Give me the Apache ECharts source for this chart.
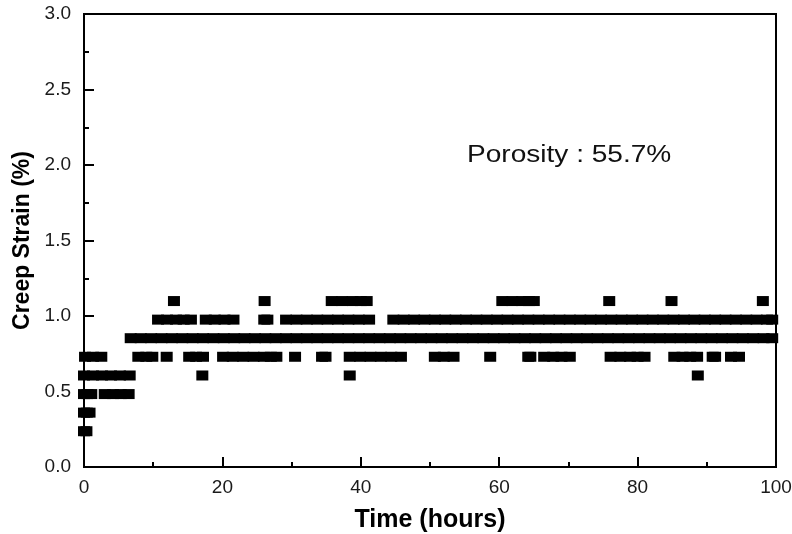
<!DOCTYPE html>
<html>
<head>
<meta charset="utf-8">
<script src="https://cdn.jsdelivr.net/npm/echarts@6/dist/echarts.min.js"></script>
<style>
  html, body { margin: 0; padding: 0; background: #fff; }
  #chart { width: 792px; height: 534px; }
</style>
</head>
<body>
<div id="chart"></div>
<script>
// Creep strain readings: each strain level (%) with the times (hours) it was recorded at.
const strainLevels = [0.237, 0.36, 0.483, 0.606, 0.73, 0.853, 0.976, 1.099];

const timesAt0237 = [0, 0.35];
const timesAt0360 = [0, 0.4, 0.8];
const timesAt0483 = [0, 0.5, 1.05, 3.0, 4.2, 5.3, 6.45];
const timesAt0606 = [0, 1.3, 2.6, 3.9, 5.2, 6.6, 17.1, 38.4, 88.7];
const timesAt0730 = [0.15, 1.3, 2.5, 7.85, 9.0, 9.87, 11.95, 15.2, 16.2, 17.2,
  20.1, 21.5, 23.0, 24.5, 26.0, 27.0, 27.8, 30.5, 34.4, 34.9,
  38.4, 39.9, 41.4, 42.9, 44.4, 45.8, 50.7, 52.0, 53.4, 58.7,
  64.2, 64.5, 66.5, 67.8, 69.0, 70.2, 76.1, 77.5, 78.9, 80.0, 81.0,
  85.3, 86.5, 87.6, 88.6, 90.85, 91.2, 93.5, 94.65];
const timesAt0853 = [6.75, 8.2, 9.7, 11.2, 12.7, 14.2, 15.7, 17.2, 18.7, 20.2,
  21.7, 23.2, 24.7, 26.2, 27.7, 29.2, 30.7, 32.2, 33.7, 35.2,
  36.7, 38.2, 39.7, 41.2, 42.7, 44.2, 45.7, 47.2, 48.7, 50.2,
  51.7, 53.2, 54.7, 56.2, 57.7, 59.2, 60.7, 62.2, 63.7, 65.2,
  66.7, 68.2, 69.7, 71.2, 72.7, 74.2, 75.7, 77.2, 78.7, 80.2,
  81.7, 83.2, 84.7, 86.2, 87.7, 89.2, 90.7, 92.2, 93.7, 95.2,
  96.7, 98.2, 99.45];
const timesAt0976 = [10.7, 12.0, 13.3, 14.4, 15.45, 17.6, 18.9, 20.3, 21.6,
  26.05, 26.5, 29.2, 30.7, 32.2, 33.7, 35.2, 36.7, 38.2, 39.7, 41.2,
  44.7, 46.2, 47.7, 49.2, 50.7, 52.2, 53.7, 55.2, 56.7, 58.2,
  59.7, 61.2, 62.7, 64.2, 65.7, 67.2, 68.7, 70.2, 71.7, 73.2,
  74.7, 76.2, 77.7, 79.2, 80.7, 82.2, 83.7, 85.2, 86.7, 88.2,
  89.7, 91.2, 92.7, 94.2, 95.7, 97.2, 98.7, 99.45];
const timesAt1099 = [13.0, 26.1, 35.8, 37.3, 38.8, 40.0, 40.85,
  60.45, 61.9, 63.3, 64.3, 65.0, 75.9, 84.9, 98.1];

const timeTicks = [0, 20, 40, 60, 80, 100];
const strainTicks = [0.0, 0.5, 1.0, 1.5, 2.0, 2.5, 3.0];
const annotation = 'Porosity : 55.7%';

const timesByLevel = [timesAt0237, timesAt0360, timesAt0483, timesAt0606,
  timesAt0730, timesAt0853, timesAt0976, timesAt1099];

const points = [];
timesByLevel.forEach((times, i) => {
  times.forEach(t => points.push([t, strainLevels[i]]));
});

const labelFont = 'Liberation Sans, Arial, Helvetica, sans-serif';

const chart = echarts.init(document.getElementById('chart'), null, { renderer: 'canvas' });
chart.setOption({
  animation: false,
  backgroundColor: '#ffffff',
  grid: {
    left: 84, right: 16, top: 14, bottom: 67,
    show: true, borderColor: '#000', borderWidth: 2,
    containLabel: false, outerBoundsMode: 'none'
  },
  xAxis: {
    type: 'value',
    min: timeTicks[0],
    max: timeTicks[timeTicks.length - 1],
    interval: timeTicks[1] - timeTicks[0],
    name: 'Time (hours)',
    nameLocation: 'middle',
    nameGap: 41,
    nameTextStyle: { fontFamily: labelFont, fontWeight: 'bold', fontSize: 25, color: '#000' },
    axisLine: { show: true, onZero: false, lineStyle: { color: '#000', width: 2 } },
    axisTick: { show: true, inside: true, length: 10, lineStyle: { color: '#000', width: 2 } },
    minorTick: { show: true, splitNumber: 2, length: 5, lineStyle: { color: '#000', width: 2 } },
    splitLine: { show: false },
    axisLabel: { fontFamily: labelFont, fontSize: 19, color: '#1a1a1a', margin: 11 }
  },
  yAxis: {
    type: 'value',
    min: strainTicks[0],
    max: strainTicks[strainTicks.length - 1],
    interval: strainTicks[1] - strainTicks[0],
    name: 'Creep Strain (%)',
    nameLocation: 'middle',
    nameGap: 43,
    nameTextStyle: { fontFamily: labelFont, fontWeight: 'bold', fontSize: 23, color: '#000' },
    axisLine: { show: true, onZero: false, lineStyle: { color: '#000', width: 2 } },
    axisTick: { show: true, inside: true, length: 10, lineStyle: { color: '#000', width: 2 } },
    minorTick: { show: true, splitNumber: 2, length: 5, lineStyle: { color: '#000', width: 2 } },
    splitLine: { show: false },
    axisLabel: {
      fontFamily: labelFont, fontSize: 19, color: '#1a1a1a', margin: 13,
      formatter: v => v.toFixed(1)
    }
  },
  series: [{
    type: 'scatter',
    data: points,
    symbol: 'rect',
    symbolSize: [12, 10],
    clip: false,
    silent: true,
    itemStyle: { color: '#000', opacity: 1 }
  }],
  graphic: [{
    type: 'text',
    x: 467,
    y: 156,
    scaleX: 1.22,
    style: {
      text: annotation,
      font: '23px ' + labelFont,
      fill: '#111',
      textAlign: 'left',
      textVerticalAlign: 'middle'
    }
  }]
});
</script>
</body>
</html>
